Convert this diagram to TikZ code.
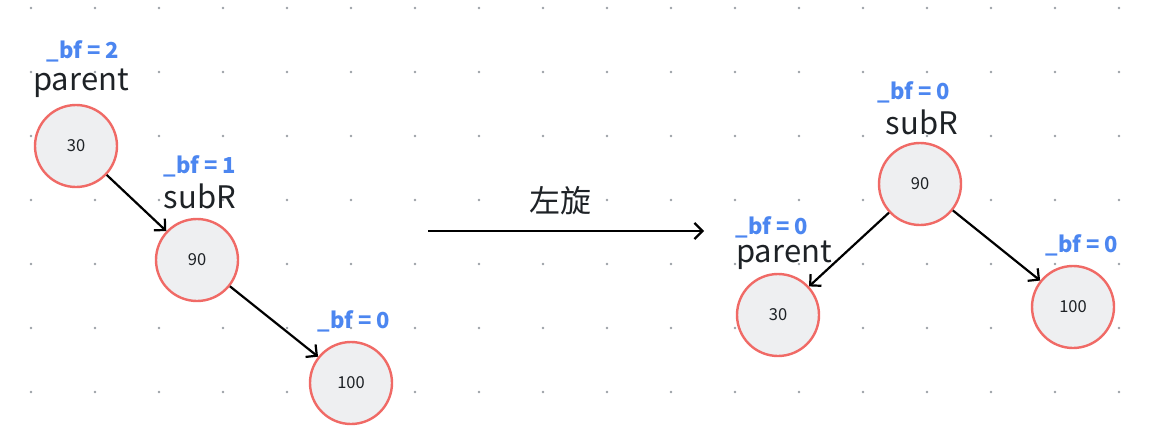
\documentclass[tikz,border=0pt]{standalone}
\usepackage{fontspec}
\setmainfont{Noto Sans CJK SC}
\usetikzlibrary{arrows.meta}
\definecolor{nodefill}{HTML}{EEEFF1}
\definecolor{nodeline}{HTML}{F06A66}
\definecolor{bfblue}{HTML}{4C86F0}
\definecolor{txtc}{HTML}{1E2226}
\definecolor{dotc}{HTML}{9AA0A6}
\tikzset{
  tnode/.style={circle,draw=nodeline,fill=nodefill,line width=2.4pt,minimum size=82pt,inner sep=0pt,font=\fontsize{16.5}{16.5}\selectfont,text=txtc},
  bflbl/.style={text=bfblue,font=\bfseries\fontsize{22}{22}\selectfont,inner sep=0pt},
  namelbl/.style={text=txtc,font=\fontsize{31}{31}\selectfont,inner sep=0pt},
  conn/.style={line width=2.2pt,-{Straight Barb[length=8pt,width=16pt,line width=2.2pt]},draw=black}
}
\begin{document}
\begin{tikzpicture}[x=1pt,y=-1pt]
\useasboundingbox (0,0) rectangle (1150,442);
\foreach \i in {0,...,17}{
  \foreach \j in {0,...,6}{
    \fill[dotc] (31+64*\i,8+64*\j) circle (1.3pt);
  }
}
% left tree
\node[tnode] (a30) at (76,146) {30};
\node[tnode] (a90) at (197,260) {90};
\node[tnode] (a100) at (351,383) {100};
\node[namelbl] (lp) at (81,83) {parent};
\node[bflbl] (lpbf) at (83,51) {\_bf = 2};
\node[namelbl] (ls) at (200,196) {subR};
\node[bflbl] (lsbf) at (200,166) {\_bf = 1};
\node[bflbl] (l100bf) at (354,321) {\_bf = 0};
\draw[conn] (a30) -- (a90);
\draw[conn] (a90) -- (a100);
% rotation arrow
\coordinate (rs) at (428,231);
\coordinate (re) at (704,231);
\draw[conn] (rs) -- (re);
\node[namelbl] (rot) at (560,201) {左旋};
% right tree
\node[tnode] (b90) at (920,184) {90};
\node[tnode] (b30) at (778,315) {30};
\node[tnode] (b100) at (1073,307) {100};
\node[namelbl] (rs2) at (922,122) {subR};
\node[bflbl] (rsbf) at (914,92) {\_bf = 0};
\node[namelbl] (rp) at (784,255) {parent};
\node[bflbl] (rpbf) at (772,227) {\_bf = 0};
\node[bflbl] (r100bf) at (1082,245) {\_bf = 0};
\draw[conn] (b90) -- (b30);
\draw[conn] (b90) -- (b100);
\end{tikzpicture}
\end{document}
